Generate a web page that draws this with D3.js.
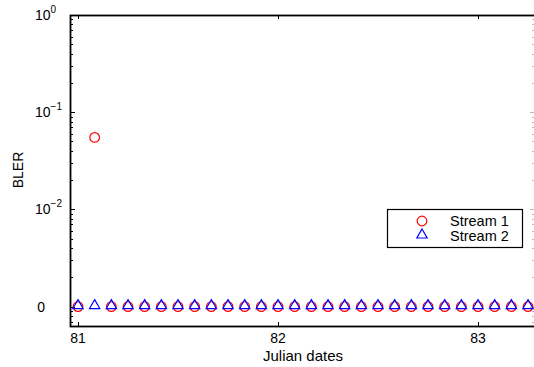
<!DOCTYPE html>
<html lang="en">
<head>
    <meta charset="UTF-8">
    <title>BLER vs Julian dates</title>
    <script src="https://d3js.org/d3.v7.min.js"></script>
    <style>
        body { margin: 0; background: #fff; }
        svg text { font-family: "Liberation Sans", Arial, sans-serif; fill: #000; }
    </style>
</head>
<body>
    <svg id="chart" width="534" height="367"></svg>
    <script>
        // sample times: every 2 hours starting at day 81
        const dates = [81, 81.0833, 81.1667, 81.25, 81.3333, 81.4167, 81.5, 81.5833,
                       81.6667, 81.75, 81.8333, 81.9167, 82, 82.0833, 82.1667, 82.25,
                       82.3333, 82.4167, 82.5, 82.5833, 82.6667, 82.75, 82.8333, 82.9167,
                       83, 83.0833, 83.1667, 83.25];
        const stream1 = [0, 0.055, 0, 0, 0, 0, 0, 0, 0, 0, 0, 0, 0, 0,
                         0, 0, 0, 0, 0, 0, 0, 0, 0, 0, 0, 0, 0, 0];
        const stream2 = [0, 0, 0, 0, 0, 0, 0, 0, 0, 0, 0, 0, 0, 0,
                         0, 0, 0, 0, 0, 0, 0, 0, 0, 0, 0, 0, 0, 0];
        const xTicks = [81, 82, 83];
        const yTicks = [1, 0.1, 0.01, 0.001];   // 0.001 is where zero is drawn
        const seriesNames = ["Stream 1", "Stream 2"];

        const zeroLevel = 0.001;
        const svg = d3.select("#chart");
        const pLeft = 70, pRight = 535, pTop = 15, pBottom = 326;

        const x = d3.scaleLinear().domain([80.96, 83.285]).range([pLeft, pRight]);
        const y = d3.scaleLog().domain([Math.pow(10, -3.2), 1]).range([pBottom, pTop]);
        const yv = v => y(v <= 0 ? zeroLevel : v);

        // minor log ticks
        const minor = [];
        for (let e = -4; e < 0; e++) {
            for (let m = 2; m <= 9; m++) {
                const v = m * Math.pow(10, e);
                if (v >= y.domain()[0] && v <= 1) minor.push(v);
            }
        }

        const axes = svg.append("g").attr("stroke", "#000").attr("stroke-width", 1);
        minor.forEach(v => {
            const py = Math.round(y(v)) + 0.5;
            axes.append("line").attr("x1", pLeft).attr("x2", pLeft + 3).attr("y1", py).attr("y2", py);
            axes.append("line").attr("x1", pRight).attr("x2", pRight - 3).attr("y1", py).attr("y2", py)
                .attr("stroke", "#bbb");
        });
        yTicks.forEach(v => {
            const py = Math.round(y(v)) + 0.5;
            axes.append("line").attr("x1", pLeft).attr("x2", pLeft + 5).attr("y1", py).attr("y2", py);
            axes.append("line").attr("x1", pRight).attr("x2", pRight - 5).attr("y1", py).attr("y2", py)
                .attr("stroke", "#bbb");
        });
        xTicks.forEach(v => {
            const px = Math.round(x(v)) + 0.5;
            axes.append("line").attr("x1", px).attr("x2", px).attr("y1", pBottom).attr("y2", pBottom - 4);
            axes.append("line").attr("x1", px).attr("x2", px).attr("y1", pTop).attr("y2", pTop + 4);
        });

        // axes box
        axes.append("rect")
            .attr("x", pLeft + 0.5).attr("y", pTop + 0.5)
            .attr("width", pRight - pLeft).attr("height", pBottom - pTop)
            .attr("fill", "none").attr("stroke-width", 1.8);

        // y tick labels
        yTicks.forEach(v => {
            const py = y(v);
            if (v === zeroLevel) {
                svg.append("text").attr("x", 45).attr("y", py + 5)
                    .attr("text-anchor", "end").attr("font-size", 14).text("0");
            } else {
                const e = Math.round(Math.log10(v));
                const t = svg.append("text").attr("x", 35).attr("y", py + 5).attr("font-size", 14);
                t.append("tspan").text("10");
                t.append("tspan").attr("dy", -7).attr("font-size", 10).text(e === 0 ? "0" : "\u2212" + (-e));
            }
        });

        // x tick labels
        xTicks.forEach(v => {
            svg.append("text").attr("x", x(v)).attr("y", 343)
                .attr("text-anchor", "middle").attr("font-size", 14).text(v);
        });

        svg.append("text").attr("x", 303).attr("y", 361)
            .attr("text-anchor", "middle").attr("font-size", 15).text("Julian dates");
        svg.append("text").attr("transform", "translate(23,170) rotate(-90)")
            .attr("text-anchor", "middle").attr("font-size", 14).text("BLER");

        const tri = d3.symbol().type(d3.symbolTriangle).size(46);

        // Stream 1 (red circles)
        svg.append("g").selectAll("circle").data(dates.map((d, i) => [d, stream1[i]]))
            .join("circle")
            .attr("cx", d => x(d[0])).attr("cy", d => yv(d[1])).attr("r", 4.8)
            .attr("fill", "none").attr("stroke", "#f00").attr("stroke-width", 1.2);

        // Stream 2 (blue triangles)
        svg.append("g").selectAll("path").data(dates.map((d, i) => [d, stream2[i]]))
            .join("path")
            .attr("d", tri)
            .attr("transform", d => `translate(${x(d[0])},${yv(d[1]) - 1})`)
            .attr("fill", "none").attr("stroke", "#00f").attr("stroke-width", 1.2);

        // legend
        const lg = svg.append("g");
        lg.append("rect").attr("x", 387.5).attr("y", 209.5).attr("width", 135).attr("height", 38)
            .attr("fill", "#fff").attr("stroke", "#000").attr("stroke-width", 1.2);
        lg.append("circle").attr("cx", 422).attr("cy", 221).attr("r", 4.8)
            .attr("fill", "none").attr("stroke", "#f00").attr("stroke-width", 1.2);
        lg.append("path").attr("d", tri).attr("transform", "translate(422,235)")
            .attr("fill", "none").attr("stroke", "#00f").attr("stroke-width", 1.2);
        seriesNames.forEach((n, i) => {
            lg.append("text").attr("x", 450).attr("y", 226 + i * 15).attr("font-size", 14.5).text(n);
        });
    </script>
</body>
</html>
